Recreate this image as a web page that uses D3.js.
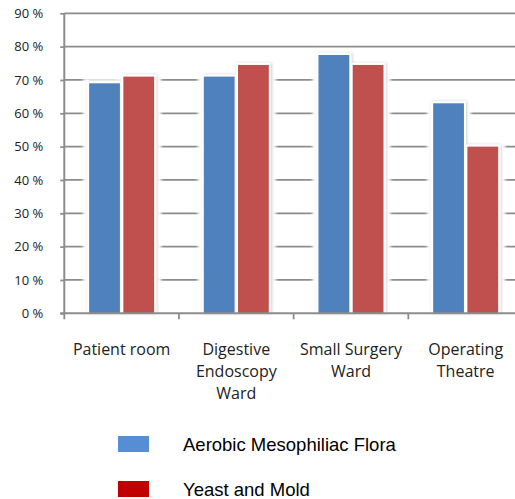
<!DOCTYPE html>
<html><head><meta charset="utf-8">
<script src="https://cdn.jsdelivr.net/npm/d3@7"></script>
<style>body{margin:0;background:#fff}</style>
</head><body>
<svg id="c" width="515" height="499"></svg>
<script>
const categories = [["Patient room"], ["Digestive", "Endoscopy", "Ward"], ["Small Surgery", "Ward"], ["Operating", "Theatre"]];
const seriesNames = ["Aerobic Mesophiliac Flora", "Yeast and Mold"];
const aerobic = [69, 71, 77.5, 63];
const yeast = [71, 74.5, 74.5, 50];
const yTicks = [0, 10, 20, 30, 40, 50, 60, 70, 80, 90];
const barColors = ["#4f81bd", "#c0504d"];
const legendColors = ["#558ed5", "#c00000"];

const svg = d3.select("#c");
const mLeft = 64.3, mRight = 523, mTop = 13.3, mBottom = 313.3;
const y = d3.scaleLinear().domain([0, 90]).range([mBottom, mTop]);
const x = d3.scaleBand().domain(d3.range(categories.length)).range([mLeft, mRight]);
const x1 = d3.scaleBand().domain([0, 1]).range([-32.5, 32.5]).paddingInner(0.1);

const defs = svg.append("defs");
const f = defs.append("filter").attr("id", "sh").attr("x", "-50%").attr("y", "-50%").attr("width", "200%").attr("height", "200%");
f.append("feDropShadow").attr("dx", 1).attr("dy", 0).attr("stdDeviation", 1.6).attr("flood-color", "#000").attr("flood-opacity", 0.2);
const g2 = defs.append("filter").attr("id", "bl").attr("x", "-50%").attr("y", "-50%").attr("width", "200%").attr("height", "200%");
g2.append("feGaussianBlur").attr("stdDeviation", 1.5);

// gridlines
svg.append("g").selectAll("line").data(yTicks.filter(d => d > 0)).join("line")
  .attr("x1", mLeft).attr("x2", 515).attr("y1", d => y(d)).attr("y2", d => y(d))
  .attr("stroke", "#8c8c8c").attr("stroke-width", 1.8);

const data = categories.map((c, i) => [aerobic[i], yeast[i]]);
const groups = svg.append("g").selectAll("g").data(data).join("g")
  .attr("transform", (d, i) => `translate(${x(i) + x.bandwidth() / 2},0)`);

// white glow zones that interrupt gridlines
groups.selectAll("rect.w").data(d => d).join("rect").attr("class", "w")
  .attr("x", (d, j) => x1(j) - 6).attr("width", x1.bandwidth() + 13)
  .attr("y", d => y(d) - 5).attr("height", d => mBottom - y(d) + 5)
  .attr("fill", "#fff").attr("filter", "url(#bl)");
// white border + soft shadow
groups.selectAll("rect.h").data(d => d).join("rect").attr("class", "h")
  .attr("x", (d, j) => x1(j) - 2).attr("width", x1.bandwidth() + 4)
  .attr("y", d => y(d) - 2).attr("height", d => mBottom - y(d) + 2)
  .attr("fill", "#fff").attr("filter", "url(#sh)");
groups.selectAll("rect.b").data(d => d).join("rect").attr("class", "b")
  .attr("x", (d, j) => x1(j)).attr("width", x1.bandwidth())
  .attr("y", d => y(d)).attr("height", d => mBottom - y(d))
  .attr("fill", (d, j) => barColors[j]);

// y axis
const ya = svg.append("g").attr("transform", `translate(${mLeft},0)`)
  .call(d3.axisLeft(y).tickValues(yTicks).tickSize(4).tickPadding(17).tickFormat(d => d + " %"));
ya.select(".domain").attr("stroke", "#8c8c8c").attr("stroke-width", 2).attr("d", `M0,${mTop}V${mBottom}`);
ya.selectAll(".tick line").attr("stroke", "#8c8c8c").attr("stroke-width", 1.8);
ya.selectAll(".tick text").attr("font-family", "'Open Sans', sans-serif").attr("font-size", 13).attr("fill", "#222");

// x axis
const xa = svg.append("g").attr("transform", `translate(0,${mBottom})`);
xa.append("line").attr("x1", mLeft - 4).attr("x2", 515).attr("stroke", "#8c8c8c").attr("stroke-width", 2);
const xt = d3.range(categories.length + 1).map(i => i < categories.length ? x(i) : x(categories.length - 1) + x.bandwidth());
xa.selectAll("line.t").data(xt).join("line").attr("class", "t")
  .attr("x1", d => d).attr("x2", d => d).attr("y1", 0).attr("y2", 6)
  .attr("stroke", "#8c8c8c").attr("stroke-width", 1.8);
xa.selectAll("text").data(categories).join("text")
  .attr("x", (d, i) => x(i) + x.bandwidth() / 2).attr("y", 42)
  .attr("text-anchor", "middle").attr("font-family", "'Open Sans', sans-serif").attr("font-size", 16).attr("fill", "#222")
  .selectAll("tspan").data(d => d).join("tspan")
  .attr("x", function () { return d3.select(this.parentNode).attr("x"); })
  .attr("dy", (d, k) => k === 0 ? 0 : 22).text(d => d);

// legend
const lg = svg.append("g").selectAll("g").data(seriesNames).join("g")
  .attr("transform", (d, i) => `translate(118,${436 + i * 45})`);
lg.append("rect").attr("width", 31).attr("height", 16).attr("fill", (d, i) => legendColors[i]);
lg.append("text").attr("x", 65).attr("y", 14.5)
  .attr("font-family", "'Liberation Sans', Arial, sans-serif").attr("font-size", 18.5).attr("fill", "#000").text(d => d);
</script>
</body></html>
